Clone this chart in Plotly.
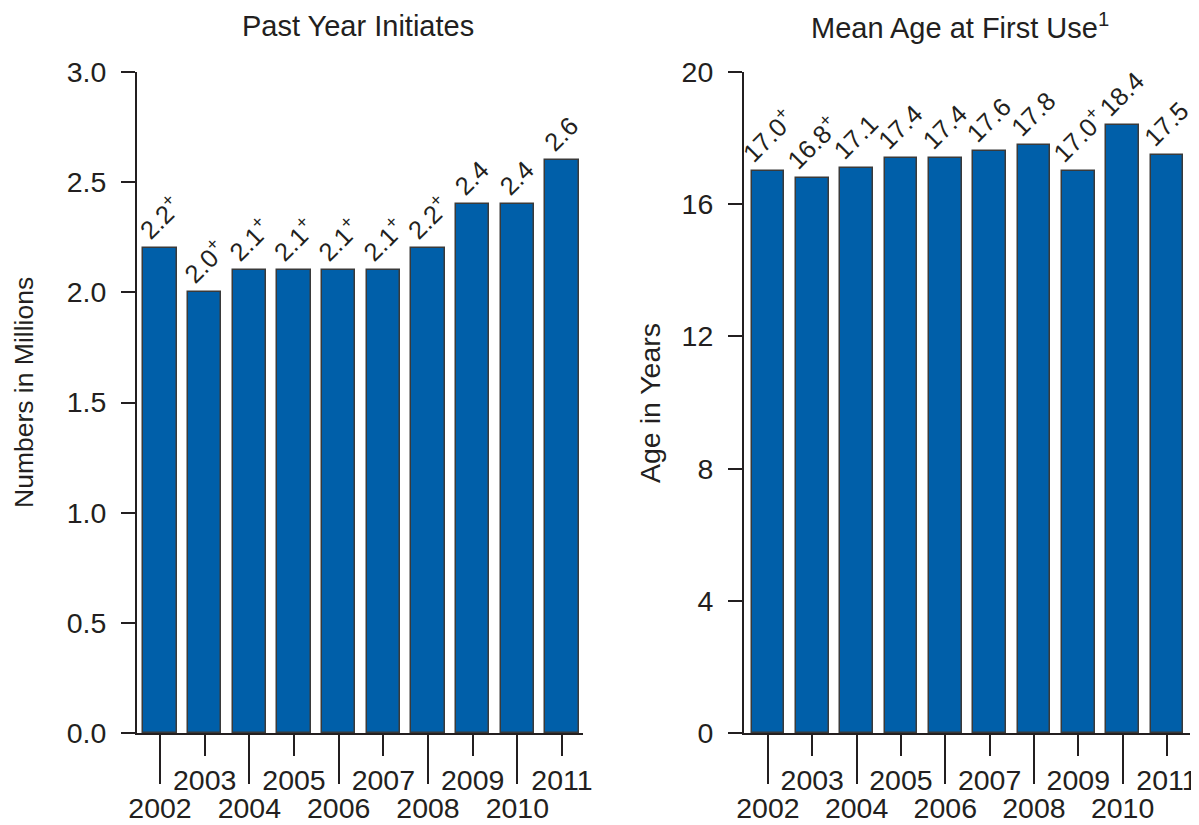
import plotly.graph_objects as go

years = [2002, 2003, 2004, 2005, 2006, 2007, 2008, 2009, 2010, 2011]
initiates = [2.2, 2.0, 2.1, 2.1, 2.1, 2.1, 2.2, 2.4, 2.4, 2.6]
initiates_sig = [True, True, True, True, True, True, True, False, False, False]
mean_age = [17.0, 16.8, 17.1, 17.4, 17.4, 17.6, 17.8, 17.0, 18.4, 17.5]
mean_age_sig = [True, True, False, False, False, False, False, True, False, False]

even_years = [y for y in years if y % 2 == 0]
odd_years = [y for y in years if y % 2 == 1]

left_title = "Past Year Initiates"
right_title = "Mean Age at First Use<sup>1</sup>"
left_ytitle = "Numbers in Millions"
right_ytitle = "Age in Years"

FONT = "Liberation Sans, Arial, sans-serif"
INK = "#231f20"
BAR = "#005FA9"
OFF = 8  # page body margin
W, H = 1199 - OFF, 825 - OFF


def px_x(X):
    return (X - OFF) / W


def px_y(Y):
    return 1 - (Y - OFF) / H


def lab(v, sig, fmt):
    return fmt.format(v) + ("<sup>+</sup>" if sig else "")


left_text = [lab(v, s, "{:.1f}") for v, s in zip(initiates, initiates_sig)]
right_text = [lab(v, s, "{:.1f}") for v, s in zip(mean_age, mean_age_sig)]

fig = go.Figure()
bar_common = dict(
    marker=dict(color=BAR, line=dict(color="#3a3a3a", width=1.5)),
    width=0.74,
    textposition="outside",
    textangle=-45,
    cliponaxis=False,
    constraintext="none",
    textfont=dict(family=FONT, size=25.5, color=INK),
    hoverinfo="skip",
    showlegend=False,
)
fig.add_trace(go.Bar(x=years, y=initiates, text=left_text, xaxis="x", yaxis="y", **bar_common))
fig.add_trace(go.Bar(x=years, y=mean_age, text=right_text, xaxis="x2", yaxis="y2", **bar_common))
# invisible helpers so the odd-year tick axes are drawn
fig.add_trace(go.Scatter(x=odd_years, y=[0] * len(odd_years), xaxis="x3", yaxis="y",
                         mode="markers", marker=dict(opacity=0), showlegend=False,
                         hoverinfo="skip"))
fig.add_trace(go.Scatter(x=odd_years, y=[0] * len(odd_years), xaxis="x4", yaxis="y2",
                         mode="markers", marker=dict(opacity=0), showlegend=False,
                         hoverinfo="skip"))

d1 = [px_x(137), px_x(583)]
d2 = [px_x(744), px_x(1190)]
dy = [px_y(733), px_y(72)]
r1 = [2001.485, 2011.47]
r2 = [2001.46, 2011.52]

tickfont = dict(family=FONT, size=28.5, color=INK)
xcommon = dict(showgrid=False, zeroline=False, ticks="outside", tickwidth=2,
               tickcolor=INK, tickfont=tickfont, fixedrange=True, automargin=False)
ycommon = dict(showgrid=False, zeroline=False, ticks="outside", ticklen=14, tickwidth=2,
               tickcolor=INK, showline=True, linewidth=2, linecolor=INK,
               tickfont=tickfont, ticklabelstandoff=9, fixedrange=True, automargin=False)

fig.update_layout(
    width=W, height=H,
    margin=dict(l=0, r=0, t=0, b=0),
    paper_bgcolor="white", plot_bgcolor="white",
    bargap=0,
    xaxis=dict(domain=d1, range=r1, anchor="y", tickvals=even_years,
               ticktext=[str(y) for y in even_years], ticklen=49,
               showline=True, linewidth=2, linecolor=INK, **xcommon),
    xaxis3=dict(overlaying="x", anchor="y", range=r1, tickvals=odd_years,
                ticktext=[str(y) for y in odd_years], ticklen=22,
                showline=False, side="bottom", **xcommon),
    xaxis2=dict(domain=d2, range=r2, anchor="y2", tickvals=even_years,
                ticktext=[str(y) for y in even_years], ticklen=49,
                showline=True, linewidth=2, linecolor=INK, **xcommon),
    xaxis4=dict(overlaying="x2", anchor="y2", range=r2, tickvals=odd_years,
                ticktext=[str(y) for y in odd_years], ticklen=22,
                showline=False, side="bottom", **xcommon),
    yaxis=dict(domain=dy, anchor="x", range=[0, 3], dtick=0.5, tick0=0, tickformat=".1f",
               **ycommon),
    yaxis2=dict(domain=dy, anchor="x2", range=[0, 20], dtick=4, tick0=0, **ycommon),
)

ann_font = dict(family=FONT, size=29, color=INK)
fig.add_annotation(text=left_title, xref="paper", yref="paper", x=px_x(358), y=px_y(26),
                   xanchor="center", yanchor="middle", showarrow=False, font=ann_font,
                   borderpad=0)
fig.add_annotation(text=right_title, xref="paper", yref="paper", x=px_x(960), y=px_y(26),
                   xanchor="center", yanchor="middle", showarrow=False, font=ann_font,
                   borderpad=0)
fig.add_annotation(text=left_ytitle, xref="paper", yref="paper", x=px_x(24), y=px_y(393),
                   xanchor="center", yanchor="middle", showarrow=False, textangle=-90,
                   font=dict(family=FONT, size=26.5, color=INK))
fig.add_annotation(text=right_ytitle, xref="paper", yref="paper", x=px_x(650), y=px_y(403),
                   xanchor="center", yanchor="middle", showarrow=False, textangle=-90,
                   font=dict(family=FONT, size=28.5, color=INK))

fig.write_html("out.html")
